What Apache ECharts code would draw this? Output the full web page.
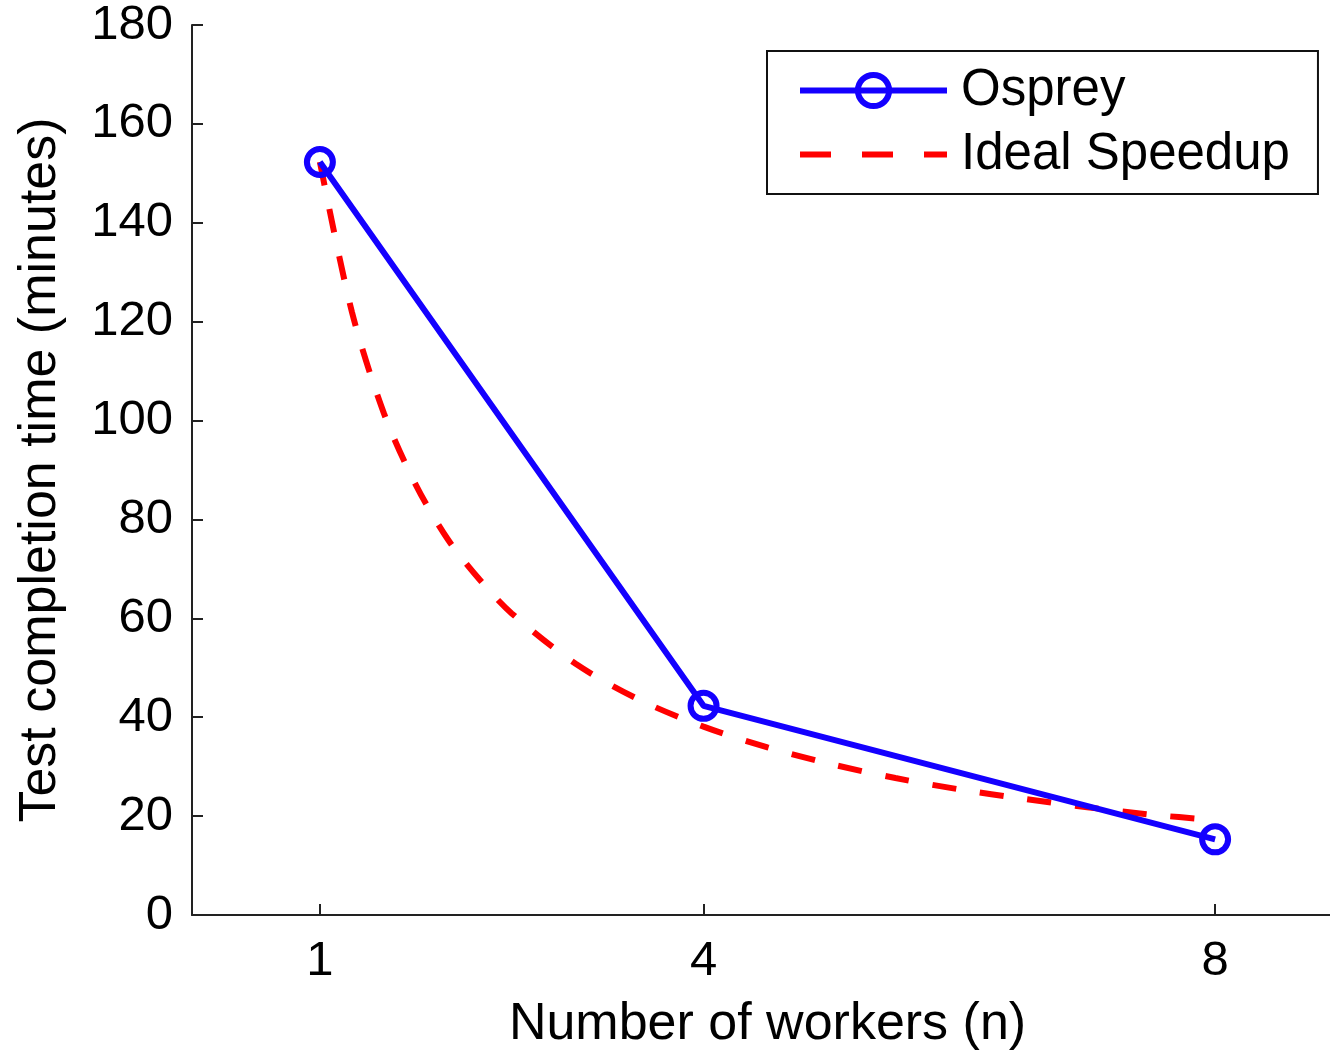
<!DOCTYPE html>
<html>
<head>
<meta charset="utf-8">
<script src="https://cdn.jsdelivr.net/npm/echarts@6/dist/echarts.min.js"></script>
<style>
html,body{margin:0;padding:0;background:#fff;}
#chart{width:1330px;height:1052px;}
</style>
</head>
<body>
<div id="chart"></div>
<script>
// Data
const workerTicks = [1, 4, 8];
const ospreyWorkers = [1, 4, 8];
const ospreyMinutes = [152.3, 42.3, 15.3];
const idealWorkers = [1, 1.25, 1.5, 1.75, 2, 2.25, 2.5, 3, 3.5, 4, 4.5, 5, 5.5, 6, 6.5, 7, 7.5, 8];
const idealMinutes = [152.3, 122, 101.5, 87, 76, 67.8, 61, 50.8, 43.5, 38.1, 33.9, 30.5, 27.7, 25.4, 23.5, 21.8, 20.3, 19.2];
const yTicks = [0, 20, 40, 60, 80, 100, 120, 140, 160, 180];

const FONT = 'Liberation Sans, Arial, Helvetica, sans-serif';
const AXIS_COLOR = '#222';
const BLUE = '#1400ff';
const RED = '#ff0000';
const TRANSPARENT = 'rgba(0,0,0,0)';

const chart = echarts.init(document.getElementById('chart'), null, {renderer: 'canvas'});
chart.setOption({
  backgroundColor: '#fff',
  animation: false,
  grid: {left: 192, top: 25, height: 890, width: 1151, containLabel: false, outerBoundsMode: 'none'},
  legend: {
    orient: 'vertical',
    left: 767,
    top: 51,
    padding: [14, 28, 14, 30],
    itemWidth: 147,
    itemHeight: 39,
    itemGap: 13,
    borderColor: '#111',
    borderWidth: 2,
    backgroundColor: '#fff',
    textStyle: {fontFamily: FONT, fontSize: 51, color: '#000', lineHeight: 50, padding: [0, 0, 0, 9]},
    lineStyle: {width: 6},
    itemStyle: {borderWidth: 6},
    data: [
      {name: 'Osprey', itemStyle: {color: TRANSPARENT, borderColor: BLUE, borderWidth: 6}, lineStyle: {color: BLUE, width: 6, type: 'solid'}},
      {name: 'Ideal Speedup', itemStyle: {color: TRANSPARENT, borderColor: TRANSPARENT, borderWidth: 0}, lineStyle: {color: RED, width: 6, type: [31, 31]}}
    ]
  },
  xAxis: {
    type: 'value',
    min: 0,
    max: 9,
    name: 'Number of workers (n)',
    nameLocation: 'middle',
    nameGap: 84,
    nameTextStyle: {fontFamily: FONT, fontSize: 52, color: '#000'},
    axisLine: {show: true, onZero: false, lineStyle: {color: AXIS_COLOR, width: 2}},
    axisTick: {show: true, inside: true, length: 11, customValues: workerTicks, lineStyle: {color: AXIS_COLOR, width: 2}},
    axisLabel: {customValues: workerTicks, fontFamily: FONT, fontSize: 49, color: '#000', margin: 22},
    splitLine: {show: false}
  },
  yAxis: {
    type: 'value',
    min: 0,
    max: 180,
    interval: 20,
    name: 'Test completion time (minutes)',
    nameLocation: 'middle',
    nameGap: 125,
    nameTextStyle: {fontFamily: FONT, fontSize: 52, color: '#000'},
    axisLine: {show: true, onZero: false, lineStyle: {color: AXIS_COLOR, width: 2}},
    axisTick: {show: true, inside: true, length: 11, lineStyle: {color: AXIS_COLOR, width: 2}},
    axisLabel: {fontFamily: FONT, fontSize: 49, color: '#000', margin: 19,
      formatter: v => (yTicks.indexOf(v) >= 0 ? String(v) : '')},
    splitLine: {show: false}
  },
  series: [
    {
      name: 'Ideal Speedup',
      type: 'line',
      data: idealWorkers.map((w, i) => [w, idealMinutes[i]]),
      smooth: 0.3,
      showSymbol: false,
      symbol: 'none',
      z: 2,
      itemStyle: {color: RED},
      lineStyle: {color: RED, width: 6, type: [24, 24]}
    },
    {
      name: 'Osprey',
      type: 'line',
      data: ospreyWorkers.map((w, i) => [w, ospreyMinutes[i]]),
      symbol: 'circle',
      symbolSize: 26,
      z: 3,
      itemStyle: {color: TRANSPARENT, borderColor: BLUE, borderWidth: 6},
      lineStyle: {color: BLUE, width: 6}
    }
  ]
});
</script>
</body>
</html>
